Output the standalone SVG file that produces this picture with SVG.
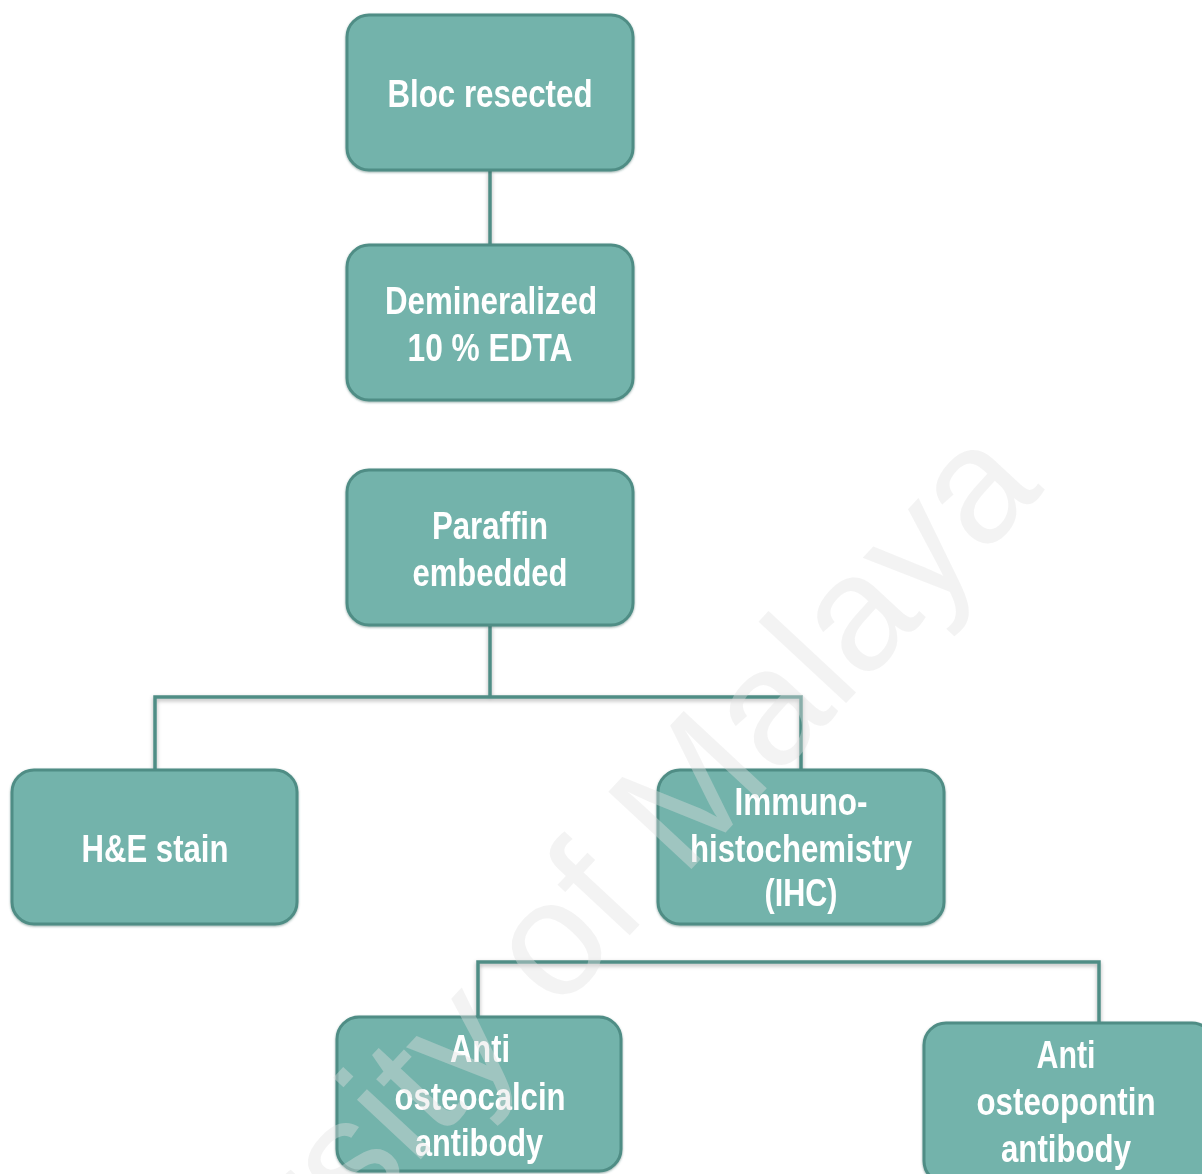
<svg xmlns="http://www.w3.org/2000/svg" width="1202" height="1174" viewBox="0 0 1202 1174">
<style>
.box{fill:#73b3ab;stroke:#4f8d85;stroke-width:3}
.lbl{font-family:"Liberation Sans",Arial,sans-serif;font-weight:bold;font-size:38px;fill:#ffffff;text-anchor:middle}
.conn{fill:none;stroke:#4f8d85;stroke-width:3.5}
.wm{font-family:"Liberation Sans",Arial,sans-serif;font-size:165px;fill:#e2e2e2;fill-opacity:0.4}
</style>
<defs>
<filter id="sh" x="-10%" y="-10%" width="120%" height="140%">
<feDropShadow dx="0" dy="2" stdDeviation="2" flood-color="#000" flood-opacity="0.3"/>
</filter>
<filter id="tsh" x="-10%" y="-20%" width="120%" height="150%">
<feDropShadow dx="0" dy="1" stdDeviation="1" flood-color="#2f5f59" flood-opacity="0.5"/>
</filter>
</defs>
<rect width="1202" height="1174" fill="#ffffff"/>
<g id="connectors" filter="url(#sh)">
<path class="conn" d="M490 170 V245"/>
<path class="conn" d="M490 625 V697 M155 770 V697 H801 V770"/>
<path class="conn" d="M478 1017 V962 H1099 V1023"/>
</g>
<g filter="url(#tsh)">
<g id="bloc">
<rect class="box" x="347" y="15" width="286" height="155" rx="22"/>
<text class="lbl" x="490" y="107" textLength="205" lengthAdjust="spacingAndGlyphs">Bloc resected</text>
</g>
<g id="demin">
<rect class="box" x="347" y="245" width="286" height="155" rx="22"/>
<text class="lbl" x="491" y="314" textLength="212" lengthAdjust="spacingAndGlyphs">Demineralized</text>
<text class="lbl" x="490" y="361" textLength="165" lengthAdjust="spacingAndGlyphs">10 % EDTA</text>
</g>
<g id="paraffin">
<rect class="box" x="347" y="470" width="286" height="155" rx="22"/>
<text class="lbl" x="490" y="539" textLength="116" lengthAdjust="spacingAndGlyphs">Paraffin</text>
<text class="lbl" x="490" y="586" textLength="155" lengthAdjust="spacingAndGlyphs">embedded</text>
</g>
<g id="he">
<rect class="box" x="12" y="770" width="285" height="154" rx="22"/>
<text class="lbl" x="155" y="862" textLength="147" lengthAdjust="spacingAndGlyphs">H&amp;E stain</text>
</g>
<g id="ihc">
<rect class="box" x="658" y="770" width="286" height="154" rx="22"/>
<text class="lbl" x="801" y="815" textLength="133" lengthAdjust="spacingAndGlyphs">Immuno-</text>
<text class="lbl" x="801" y="862" textLength="222" lengthAdjust="spacingAndGlyphs">histochemistry</text>
<text class="lbl" x="801" y="906" textLength="73" lengthAdjust="spacingAndGlyphs">(IHC)</text>
</g>
<g id="osteocalcin">
<rect class="box" x="337" y="1017" width="284" height="154" rx="22"/>
<text class="lbl" x="480" y="1062" textLength="60" lengthAdjust="spacingAndGlyphs">Anti</text>
<text class="lbl" x="480" y="1110" textLength="171" lengthAdjust="spacingAndGlyphs">osteocalcin</text>
<text class="lbl" x="479" y="1156" textLength="128" lengthAdjust="spacingAndGlyphs">antibody</text>
</g>
<g id="osteopontin">
<rect class="box" x="924" y="1023" width="290" height="160" rx="22"/>
<text class="lbl" x="1066" y="1068" textLength="59" lengthAdjust="spacingAndGlyphs">Anti</text>
<text class="lbl" x="1066" y="1115" textLength="179" lengthAdjust="spacingAndGlyphs">osteopontin</text>
<text class="lbl" x="1066" y="1162" textLength="130" lengthAdjust="spacingAndGlyphs">antibody</text>
</g>
</g>
<g id="watermark">
<text class="wm" transform="translate(1045 490) rotate(-47)" text-anchor="end">University of Malaya</text>
</g>
</svg>
